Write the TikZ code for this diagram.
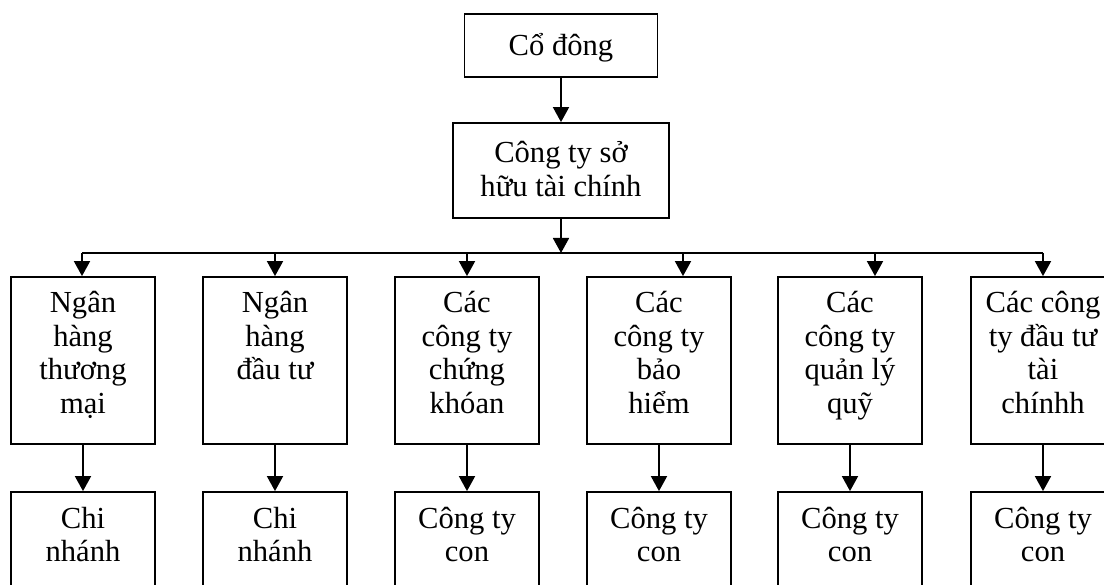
\documentclass[tikz,border=0pt]{standalone}
\usepackage{fontspec}
\setmainfont{Liberation Serif}
\usetikzlibrary{arrows.meta}

\begin{document}
\begin{tikzpicture}[x=1pt, y=-1pt,
  box/.style={draw, line width=1.8pt, inner sep=0pt, minimum width=144pt},
  rowbox/.style={box, minimum height=167pt},
  leafbox/.style={box, minimum height=130pt},
  txt/.style={text width=200pt, align=flush center, inner sep=0pt, anchor=base,
    font=\fontsize{30.6}{33.5}\selectfont},
  link/.style={line width=1.8pt, -{Triangle[width=16pt,length=15pt]}},
  bus/.style={line width=1.8pt}]
  \useasboundingbox (0,0) rectangle (1104,585);
  \clip (0,0) rectangle (1104,585);

  % top of the hierarchy
  \node[box, minimum width=193pt, minimum height=63pt] (top) at (561,45.5) {};
  \node[txt] (toptxt) at (561,56) {Cổ đông};
  \node[box, minimum width=216pt, minimum height=95pt] (mid) at (561,170.5) {};
  \node[txt] (midtxt) at (561,163) {Công ty sở\\hữu tài chính};

  % member institutions
  \node[rowbox] (r1) at (83,360.5) {};
  \node[rowbox] (r2) at (275,360.5) {};
  \node[rowbox] (r3) at (467,360.5) {};
  \node[rowbox] (r4) at (659,360.5) {};
  \node[rowbox] (r5) at (850,360.5) {};
  \node[rowbox] (r6) at (1043,360.5) {};
  \node[txt] (r1t) at (83,313) {Ngân\\hàng\\thương\\mại};
  \node[txt] (r2t) at (275,313) {Ngân\\hàng\\đầu tư};
  \node[txt] (r3t) at (467,313) {Các\\công ty\\chứng\\khóan};
  \node[txt] (r4t) at (659,313) {Các\\công ty\\bảo\\hiểm};
  \node[txt] (r5t) at (850,313) {Các\\công ty\\quản lý\\quỹ};
  \node[txt] (r6t) at (1043,313) {Các công\\ty đầu tư\\tài\\chínhh};

  % branches and subsidiaries
  \node[leafbox] (b1) at (83,557) {};
  \node[leafbox] (b2) at (275,557) {};
  \node[leafbox] (b3) at (467,557) {};
  \node[leafbox] (b4) at (659,557) {};
  \node[leafbox] (b5) at (850,557) {};
  \node[leafbox] (b6) at (1043,557) {};
  \node[txt] (b1t) at (83,528) {Chi\\nhánh};
  \node[txt] (b2t) at (275,528) {Chi\\nhánh};
  \node[txt] (b3t) at (467,528) {Công ty\\con};
  \node[txt] (b4t) at (659,528) {Công ty\\con};
  \node[txt] (b5t) at (850,528) {Công ty\\con};
  \node[txt] (b6t) at (1043,528) {Công ty\\con};

  % distribution bar
  \coordinate (busL) at (82,253);
  \coordinate (busR) at (1043,253);
  \coordinate (d4) at (683,253);
  \coordinate (d5) at (875,253);

  \draw[link] (top.south) -- (mid.north);
  \draw[link] (mid.south) -- (mid.south |- busL);
  \draw[bus] (busL) -- (busR);
  \draw[link] (busL) -- (busL |- r1.north);
  \draw[link] (r2.north |- busL) -- (r2.north);
  \draw[link] (r3.north |- busL) -- (r3.north);
  \draw[link] (d4) -- (d4 |- r4.north);
  \draw[link] (d5) -- (d5 |- r5.north);
  \draw[link] (busR) -- (r6.north);

  \foreach \i in {1,...,6} {
    \draw[link] (r\i.south) -- (b\i.north);
  }
\end{tikzpicture}
\end{document}
